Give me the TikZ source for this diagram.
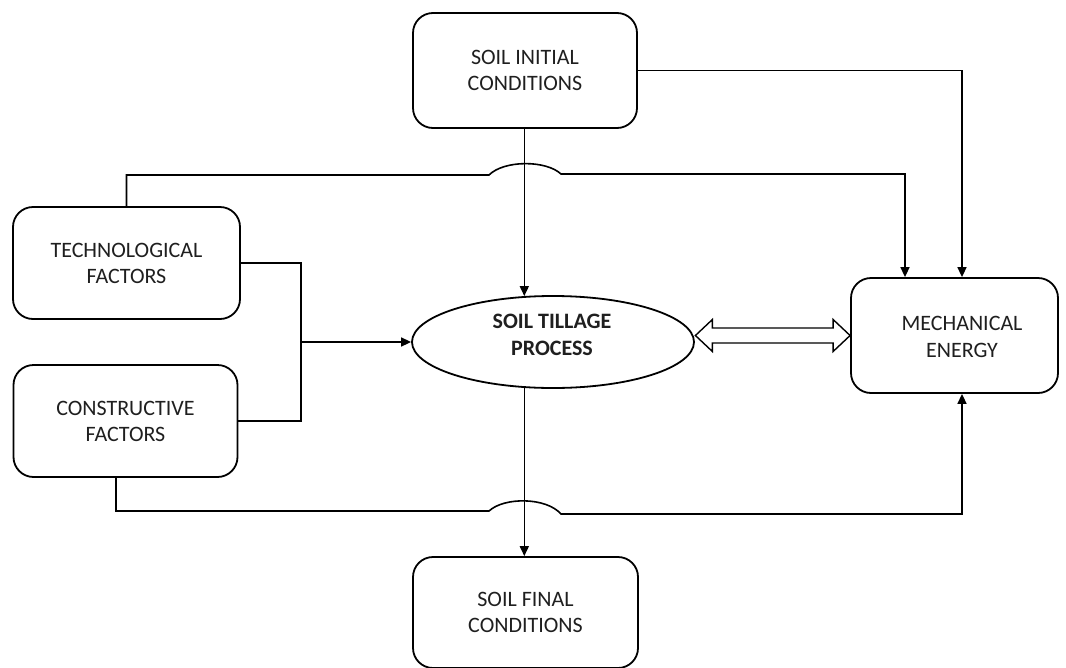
\documentclass[tikz,border=0pt]{standalone}
\usepackage{fontspec}
\setmainfont{Carlito}
\usetikzlibrary{shapes.geometric,arrows.meta,calc}
\begin{document}
\begin{tikzpicture}[x=1pt,y=-1pt,
  box/.style={draw, line width=1.8pt, rounded corners=20pt, inner sep=0pt, align=center,
    font=\fontsize{22}{26}\selectfont, text=black!88},
  lbl/.style={align=center, font=\fontsize{22}{27}\selectfont, text=black!88, inner sep=0pt},
  conn/.style={line width=1.6pt},
  arr/.style={conn, -{Triangle[length=10pt,width=9pt]}},
  hollow/.style={draw, line width=1.4pt, line join=miter}
]
\useasboundingbox (0,0) rectangle (1066,667);

% boxes
\node[box, minimum width=224pt, minimum height=115pt] (init) at (525,70.5) {SOIL INITIAL\\CONDITIONS};
\node[box, minimum width=227pt, minimum height=112pt] (tech) at (126.5,263) {TECHNOLOGICAL\\FACTORS};
\node[box, minimum width=224pt, minimum height=112pt] (cons) at (125.5,421) {CONSTRUCTIVE\\FACTORS};
\node[box, minimum width=207pt, minimum height=115pt] (mech) at (954.5,335.5) {};
\node[lbl] (mechtxt) at (962,336.5) {MECHANICAL\\ENERGY};
\node[box, minimum width=225pt, minimum height=111pt] (final) at (525.5,612.5) {SOIL FINAL\\CONDITIONS};

% central ellipse
\node[draw, ellipse, line width=1.8pt, minimum width=282pt, minimum height=92pt, inner sep=0pt] (ell) at (553,342) {};
\node[lbl, font=\fontsize{22}{27}\selectfont\bfseries] (elltxt) at (552,335) {SOIL TILLAGE\\PROCESS};

% helper coordinates
\coordinate (mechA) at ([xshift=-49.5pt]mech.north);
\coordinate (mechB) at ([xshift=7.5pt]mech.north);
\coordinate (mechC) at ([xshift=7.5pt]mech.south);
\coordinate (consS) at ([xshift=-9.5pt]cons.south);
\coordinate (brk) at (301,342);
\coordinate (topL) at (489,175);
\coordinate (topR) at (561,174);
\coordinate (botL) at (489,511);
\coordinate (botR) at (561,514);

% connectors
\draw[arr] (ell.122 |- init.south) -- (ell.122);
\draw[arr] (ell.238) -- (ell.238 |- final.north);
\draw[arr] (init.east) -| (mechB);
\draw[arr] (tech.north) |- (topL) .. controls +(15,-15) and +(-15,-14) .. (topR) -- (topR -| mechA) -- (mechA);
\draw[arr] (consS) |- (botL) .. controls +(15,-14) and +(-15,-17) .. (botR) -- (botR -| mechC) -- (mechC);
\draw[conn] (tech.east) -| (brk) |- (cons.east);
\draw[arr] (brk) -- (ell.west |- brk);

% double hollow arrow between ellipse and mechanical energy
\coordinate (dL) at ([xshift=0.5pt]ell.east |- mech.west);
\coordinate (dR) at (mech.west);
\draw[hollow] (dL) -- ($(dL)+(17,-16)$) -- ($(dL)+(17,-7.5)$) -- ($(dR)+(-17,-7.5)$)
  -- ($(dR)+(-17,-16)$) -- (dR) -- ($(dR)+(-17,16)$) -- ($(dR)+(-17,7.5)$)
  -- ($(dL)+(17,7.5)$) -- ($(dL)+(17,16)$) -- cycle;
\end{tikzpicture}
\end{document}
